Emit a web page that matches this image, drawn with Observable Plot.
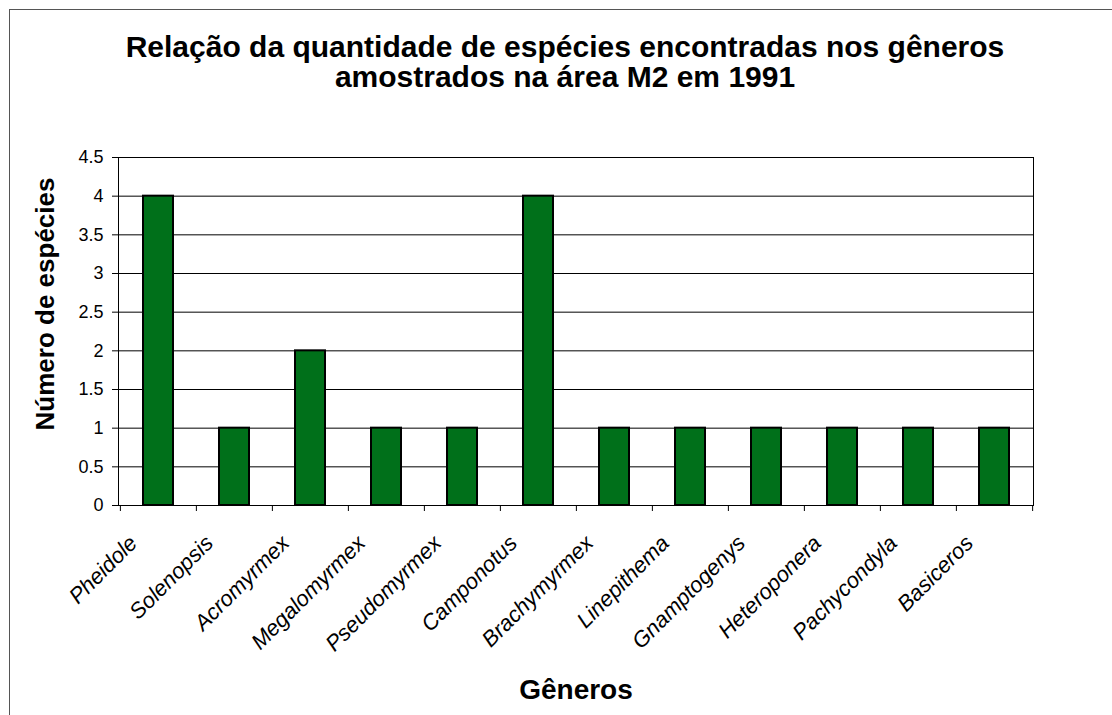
<!DOCTYPE html>
<html>
<head>
<meta charset="utf-8">
<script src="https://cdn.jsdelivr.net/npm/d3@7"></script>
<script src="https://cdn.jsdelivr.net/npm/@observablehq/plot@0.6"></script>
<style>
  body { margin: 0; background: #fff; }
  #wrap { position: relative; width: 1112px; height: 715px; overflow: hidden; background: #fff;
          font-family: "Liberation Sans", Arial, sans-serif; color: #000; }
  #frame { position: absolute; left: 9px; top: 9px; width: 1300px; height: 900px; border: 1.5px solid #555; }
  .title { position: absolute; left: 0; width: 1130px; text-align: center; font-weight: bold; font-size: 30px; line-height: 1; white-space: nowrap; }
  #ylab { position: absolute; left: 45px; top: 304px; transform: translate(-50%, -50%) rotate(-90deg);
          font-weight: bold; font-size: 26px; white-space: nowrap; }
  #xlab { position: absolute; left: 576px; top: 690px; transform: translate(-50%, -50%);
          font-weight: bold; font-size: 28px; white-space: nowrap; }
  #chart { position: absolute; left: 0; top: 0; }
</style>
</head>
<body>
<div id="wrap">
  <div id="frame"></div>
  <div class="title" id="t1" style="top:32px"></div>
  <div class="title" id="t2" style="top:62px"></div>
  <div id="ylab"></div>
  <div id="xlab"></div>
  <div id="chart"></div>
</div>
<script>
const titleLines = ["Relação da quantidade de espécies encontradas nos gêneros", "amostrados na área M2 em 1991"];
const yLabel = "Número de espécies";
const xLabel = "Gêneros";
const genera = ["Pheidole", "Solenopsis", "Acromyrmex", "Megalomyrmex", "Pseudomyrmex", "Camponotus",
                "Brachymyrmex", "Linepithema", "Gnamptogenys", "Heteroponera", "Pachycondyla", "Basiceros"];
const counts = [4, 1, 2, 1, 1, 4, 1, 1, 1, 1, 1, 1];
const yTicks = [0, 0.5, 1, 1.5, 2, 2.5, 3, 3.5, 4, 4.5];

document.getElementById("t1").textContent = titleLines[0];
document.getElementById("t2").textContent = titleLines[1];
document.getElementById("ylab").textContent = yLabel;
document.getElementById("xlab").textContent = xLabel;

const data = genera.map((g, i) => ({genus: g, count: counts[i]}));

const W = 1112, H = 715, ML = 118, MR = 79, MT = 157, MB = 210;
const bw = (W - ML - MR) / genera.length;

const chart = Plot.plot({
  width: W, height: H,
  marginLeft: ML, marginRight: MR, marginTop: MT, marginBottom: MB,
  style: {fontFamily: "'Liberation Sans', Arial, sans-serif", fontSize: "18px", color: "#000", background: "transparent"},
  x: {type: "band", domain: genera, padding: 0, axis: null},
  y: {domain: [0, 4.5], axis: null},
  marks: [
    Plot.gridY(yTicks, {stroke: "#000", strokeOpacity: 1, strokeWidth: 1}),
    Plot.barY(data, {x: "genus", y: "count", fill: "#00701a", stroke: "#000", strokeWidth: 2, insetLeft: 23, insetRight: 23}),
    Plot.frame({stroke: "#000", strokeWidth: 1}),
    Plot.axisY({ticks: yTicks, tickSize: 6, tickPadding: 9, tickFormat: d => String(d), fontSize: 18, label: null, stroke: "#000"}),
    Plot.ruleX(genera, {x: d => d, y1: 0, y2: 0, insetBottom: -6, dx: -bw / 2, stroke: "#000"}),
    Plot.ruleX(genera.slice(-1), {x: d => d, y1: 0, y2: 0, insetBottom: -6, dx: bw / 2, stroke: "#000"}),
    Plot.text(genera, {x: d => d, frameAnchor: "bottom", rotate: -45, textAnchor: "end", lineAnchor: "middle",
                       dx: -25, dy: 34, fontStyle: "italic", fontSize: 22, fill: "#000"})
  ]
});
document.getElementById("chart").appendChild(chart);
</script>
</body>
</html>
